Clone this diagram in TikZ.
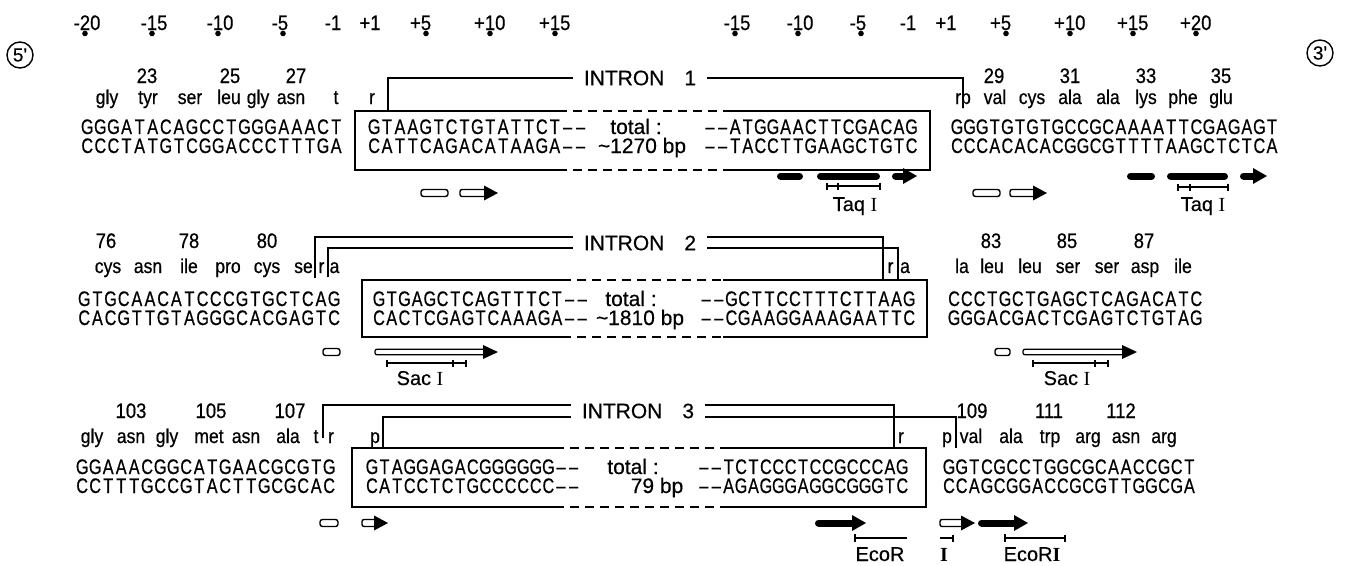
\documentclass[tikz,border=0pt]{standalone}
\usepackage{fontspec}
\setmainfont[FakeStretch=0.88,FakeBold=0.6]{Liberation Sans}
\newfontfamily\dnafont[FakeStretch=0.77,FakeBold=0.6]{Liberation Sans}
\newfontfamily\plainsans[FakeBold=0.4]{Liberation Sans}
\newfontfamily\romanI{Liberation Serif}

\newcommand\sqq[2]{\def\sqpitch{#1}\sqloop#2\relax}
\def\sqloop#1{\ifx#1\relax\else\makebox[\sqpitch pt]{\ifx#1-\textendash\else#1\fi}\expandafter\sqloop\fi}

\newcommand\aacid[4]{\node[aa] (#1) at (#2,#3) {#4};}
\newcommand\anum[4]{\node[num] (#1) at (#2,#3) {#4};}
\newcommand\dnas[5]{\node[seq] (#1) at (#2,#3) {\sqq{#4}{#5}};}
\newcommand\posn[5]{\node[num] (#1) at (#2,30) {\llap{#3}#4\rlap{#5}}; \fill (#2,33.5) circle (2.8);}
\newcommand\ibox[6]{%
 \draw[box] (#5,#3) -- (#1,#3) -- (#1,#4) -- (#5,#4);
 \draw[box] (#6,#3) -- (#2,#3) -- (#2,#4) -- (#6,#4);
 \draw[dbox] (#5,#3) -- (#6,#3) (#5,#4) -- (#6,#4);}
\newcommand\rrule[3]{\draw[rule] (#1,#3) -- (#2,#3);}
\newcommand\tck[2]{\draw[rule] (#1,#2-3.5) -- (#1,#2+3.5);}
\newcommand\obar[3]{\draw[line width=1.4pt, fill=white, rounded corners=2.5pt] (#1,#3-3.5) rectangle (#2,#3+3.5);}
\newcommand\oarr[3]{\draw[line width=1.4pt, fill=white, rounded corners=2pt] (#1,#3-3.5) rectangle (#2-11,#3+3.5); \fill (#2-14,#3-7.5) -- (#2,#3) -- (#2-14,#3+7.5) -- cycle;}
\newcommand\oarrthin[3]{\draw[line width=1.3pt, fill=white, rounded corners=2pt] (#1,#3-2.8) rectangle (#2-11,#3+2.8); \fill (#2-15,#3-7) -- (#2,#3) -- (#2-15,#3+7) -- cycle;}
\newcommand\bbar[3]{\draw[line width=7pt, line cap=round] (#1+3.5,#3) -- (#2-3.5,#3);}
\newcommand\barr[3]{\draw[line width=7pt, line cap=round] (#1+3.5,#3) -- (#2-10,#3); \fill (#2-14,#3-8) -- (#2,#3) -- (#2-14,#3+8) -- cycle;}

\begin{document}
\begin{tikzpicture}[x=1pt, y=-1pt, line width=1.4pt,
 seq/.style={anchor=base west, inner sep=0pt, font=\dnafont\fontsize{21}{21}\selectfont},
 aa/.style={anchor=base, inner sep=0pt, font=\fontsize{20}{20}\selectfont},
 num/.style={anchor=base, inner sep=0pt, font=\fontsize{21}{21}\selectfont},
 intr/.style={inner xsep=10pt, inner ysep=0pt, font=\plainsans\fontsize{21}{21}\selectfont},
 lbl/.style={anchor=base, inner sep=0pt, font=\plainsans\fontsize{20}{20}\selectfont},
 tot/.style={anchor=base, inner sep=0pt, font=\plainsans\fontsize{21}{21}\selectfont},
 ring/.style={draw, circle, minimum size=26pt, inner sep=0pt, line width=1.4pt, font=\plainsans\fontsize{19}{19}\selectfont},
 box/.style={line width=1.7pt},
 dbox/.style={line width=1.7pt, dash pattern=on 9pt off 6pt},
 rule/.style={line width=1.3pt}]
\fill[white] (0,0) rectangle (1346,565);
\useasboundingbox (0,0) rectangle (1346,565);

% ---------- position numbers ----------
\posn{p1}{85}{-}{2}{0}
\posn{p2}{152}{-}{1}{5}
\posn{p3}{218}{-}{1}{0}
\posn{p4}{283}{-}{5}{}
\anum{p5}{333}{30}{-1}
\anum{p6}{370}{30}{+1}
\posn{p7}{426}{+}{5}{}
\posn{p8}{490}{+}{1}{0}
\posn{p9}{555}{+}{1}{5}
\posn{q1}{735}{-}{1}{5}
\posn{q2}{798}{-}{1}{0}
\posn{q3}{861}{-}{5}{}
\anum{q4}{908}{30}{-1}
\anum{q5}{946}{30}{+1}
\posn{q6}{1006}{+}{5}{}
\posn{q7}{1070}{+}{1}{0}
\posn{q8}{1133}{+}{1}{5}
\posn{q9}{1196}{+}{2}{0}

\node[ring] (five) at (20,55) {5'};
\node[ring] (three) at (1320,53) {3'};

% ================= ROW 1 =================
\anum{n23}{147}{83}{23}
\anum{n25}{230}{83}{25}
\anum{n27}{296}{83}{27}
\anum{n29}{994}{83}{29}
\anum{n31}{1070}{83}{31}
\anum{n33}{1146}{83}{33}
\anum{n35}{1221}{83}{35}

\aacid{a11}{107}{104}{gly}
\aacid{a12}{148}{104}{tyr}
\aacid{a13}{190}{104}{ser}
\aacid{a14}{229}{104}{leu}
\aacid{a15}{258}{104}{gly}
\aacid{a16}{291}{104}{asn}
\aacid{a17}{336}{104}{t}
\aacid{a18}{372}{104}{r}
\aacid{a19}{963}{104}{rp}
\aacid{a20}{995}{104}{val}
\aacid{a21}{1032}{104}{cys}
\aacid{a22}{1070}{104}{ala}
\aacid{a23}{1108}{104}{ala}
\aacid{a24}{1146}{104}{lys}
\aacid{a25}{1183}{104}{phe}
\aacid{a26}{1221}{104}{glu}

\dnas{s1a}{80}{134}{13.1}{GGGATACAGCCTGGGAAACT}
\dnas{s1b}{80}{153}{13.1}{CCCTATGTCGGACCCTTTGA}
\dnas{s1c}{367}{134}{12.9}{GTAAGTCTGTATTCT--}
\dnas{s1d}{367}{153}{12.9}{CATTCAGACATAAGA--}
\dnas{s1e}{703}{134}{12.6}{--ATGGAACTTCGACAG}
\dnas{s1f}{703}{153}{12.6}{--TACCTTGAAGCTGTC}
\dnas{s1g}{950}{134}{12.6}{GGGTGTGTGCCGCAAAATTCGAGAGT}
\dnas{s1h}{950}{153}{12.6}{CCCACACACGGCGTTTTAAGCTCTCA}
\node[tot] (t1a) at (636,134) {total :};
\node[tot] (t1b) at (642,153) {\textasciitilde 1270 bp};

\ibox{355}{930}{111}{170}{558}{723}

\node[intr] (in1) at (640,78) {INTRON\hspace{20pt}1};
\draw (388,111) -- (388,78) -- (in1.west);
\draw (in1.east) -- (963,78) -- (963,96);

\obar{421}{448}{193}
\oarr{460}{498}{193}
\obar{973}{1000}{193}
\oarr{1010}{1047}{193}
\bbar{777}{803}{176}
\bbar{817}{880}{176}
\barr{892}{917}{176}
\bbar{1127}{1155}{176}
\bbar{1167}{1228}{176}
\barr{1240}{1267}{176}
\rrule{827}{880}{186} \tck{827}{186} \tck{838}{186} \tck{880}{186}
\rrule{1178}{1228}{187} \tck{1178}{187} \tck{1190}{187} \tck{1228}{187}
\node[lbl] (taq1) at (855,211) {Taq {\romanI I}};
\node[lbl] (taq2) at (1203,211) {Taq {\romanI I}};

% ================= ROW 2 =================
\anum{n76}{106}{248}{76}
\anum{n78}{189}{248}{78}
\anum{n80}{267}{248}{80}
\anum{n83}{991}{248}{83}
\anum{n85}{1067}{248}{85}
\anum{n87}{1144}{248}{87}

\aacid{b11}{108}{273}{cys}
\aacid{b12}{148}{273}{asn}
\aacid{b13}{189}{273}{ile}
\aacid{b14}{228}{273}{pro}
\aacid{b15}{267}{273}{cys}
\node[aa, anchor=base east] (b16) at (313.5,273) {se};
\aacid{b17}{321.5}{273}{r}
\aacid{b18}{334.5}{273}{a}
\aacid{b19}{890.5}{273}{r}
\aacid{b20}{905}{273}{a}
\aacid{b21}{962}{273}{la}
\aacid{b22}{992}{273}{leu}
\aacid{b23}{1030}{273}{leu}
\aacid{b24}{1068}{273}{ser}
\aacid{b25}{1107}{273}{ser}
\aacid{b26}{1145}{273}{asp}
\aacid{b27}{1183}{273}{ile}

\dnas{s2a}{77}{306}{13.15}{GTGCAACATCCCGTGCTCAG}
\dnas{s2b}{77}{325}{13.15}{CACGTTGTAGGGCACGAGTC}
\dnas{s2c}{372}{306}{12.7}{GTGAGCTCAGTTTCT--}
\dnas{s2d}{372}{325}{12.7}{CACTCGAGTCAAAGA--}
\dnas{s2e}{699}{306}{12.7}{--GCTTCCTTTCTTAAG}
\dnas{s2f}{699}{325}{12.7}{--CGAAGGAAAGAATTC}
\dnas{s2g}{947}{306}{12.75}{CCCTGCTGAGCTCAGACATC}
\dnas{s2h}{947}{325}{12.75}{GGGACGACTCGAGTCTGTAG}
\node[tot] (t2a) at (631,306) {total :};
\node[tot] (t2b) at (640,325) {\textasciitilde 1810 bp};

\ibox{362}{927}{280}{337}{562}{723}

\node[intr] (in2) at (640,243) {INTRON\hspace{20pt}2};
\coordinate (h237) at (0,237);
\coordinate (h248) at (0,248);
\draw (315,278) -- (315,237) -- (in2.west |- h237);
\draw (in2.east |- h237) -- (883,237) -- (883,280);
\draw (328,277) -- (328,248) -- (in2.west |- h248);
\draw (in2.east |- h248) -- (898,248) -- (898,280);

\obar{323}{340}{352}
\oarrthin{375}{498}{352}
\obar{995}{1010}{352}
\oarrthin{1023}{1137}{352}
\rrule{387}{466}{363} \tck{387}{363} \tck{453}{363} \tck{466}{363}
\rrule{1033}{1108}{363} \tck{1033}{363} \tck{1095}{363} \tck{1108}{363}
\node[lbl] (sac1) at (420,385) {Sac {\romanI I}};
\node[lbl] (sac2) at (1067,385) {Sac {\romanI I}};

% ================= ROW 3 =================
\anum{n103}{131}{418}{103}
\anum{n105}{211}{418}{105}
\anum{n107}{290}{418}{107}
\anum{n109}{972}{418}{109}
\anum{n111}{1049}{418}{111}
\anum{n112}{1121}{418}{112}

\aacid{c11}{92}{443}{gly}
\aacid{c12}{131}{443}{asn}
\aacid{c13}{167}{443}{gly}
\aacid{c14}{209}{443}{met}
\aacid{c15}{246}{443}{asn}
\aacid{c16}{288}{443}{ala}
\aacid{c17}{316}{443}{t}
\aacid{c18}{331}{443}{r}
\aacid{c19}{375}{443}{p}
\aacid{c20}{901}{443}{r}
\aacid{c21}{947}{443}{p}
\aacid{c22}{971}{443}{val}
\aacid{c23}{1011}{443}{ala}
\aacid{c24}{1050}{443}{trp}
\aacid{c25}{1088}{443}{arg}
\aacid{c26}{1126}{443}{asn}
\aacid{c27}{1164}{443}{arg}

\dnas{s3a}{75}{474}{13}{GGAAACGGCATGAACGCGTG}
\dnas{s3b}{75}{493}{13}{CCTTTGCCGTACTTGCGCAC}
\dnas{s3c}{365}{474}{12.6}{GTAGGAGACGGGGGG--}
\dnas{s3d}{365}{493}{12.6}{CATCCTCTGCCCCCC--}
\dnas{s3e}{697}{474}{12.4}{--TCTCCCTCCGCCCAG}
\dnas{s3f}{697}{493}{12.4}{--AGAGGGAGGCGGGTC}
\dnas{s3g}{942}{474}{12.65}{GGTCGCCTGGCGCAACCGCT}
\dnas{s3h}{942}{493}{12.65}{CCAGCGGACCGCGTTGGCGA}
\node[tot] (t3a) at (633,474) {total :};
\node[tot] (t3b) at (657,493) {79 bp};

\ibox{352}{926}{448}{507}{555}{723}

\node[intr] (in3) at (638,411) {INTRON\hspace{20pt}3};
\coordinate (h405) at (0,405);
\coordinate (h417) at (0,417);
\draw (323,438) -- (323,405) -- (in3.west |- h405);
\draw (in3.east |- h405) -- (894,405) -- (894,448);
\draw (383,448) -- (383,417) -- (in3.west |- h417);
\draw (in3.east |- h417) -- (956,417) -- (956,448);

\obar{320}{338}{523}
\oarr{362}{388}{523}
\barr{815}{866}{523}
\oarr{940}{975}{523}
\barr{978}{1028}{523}
\rrule{855}{907}{538} \draw[line width=2.4pt] (855,534) -- (855,542);
\rrule{940}{953}{538} \tck{953}{538}
\rrule{1005}{1065}{538} \draw[line width=2.4pt] (1005,534) -- (1005,542); \tck{1065}{538}
\node[lbl] (eco1) at (880,561) {EcoR};
\node[lbl] (eco2) at (944,561) {\romanI\bfseries I};
\node[lbl] (eco3) at (1032,561) {EcoR{\romanI\bfseries I}};
\end{tikzpicture}
\end{document}
